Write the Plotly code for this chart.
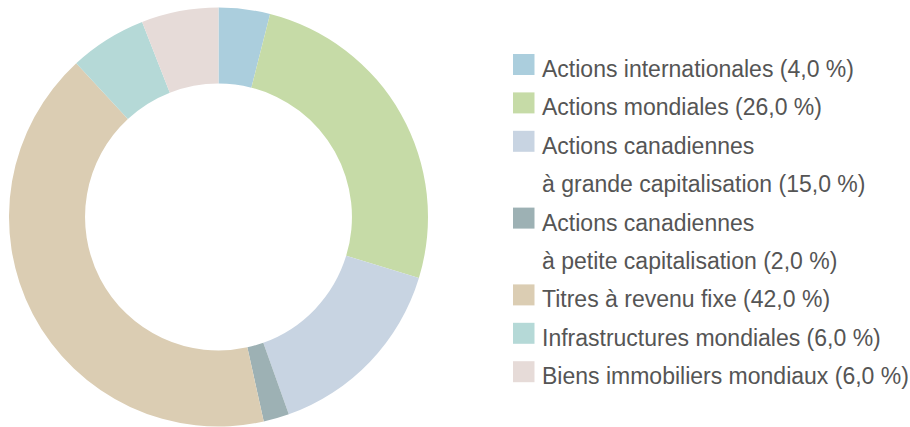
import plotly.graph_objects as go

# ---- data ----
categories = [
    "Actions internationales",
    "Actions mondiales",
    "Actions canadiennes<br>à grande capitalisation",
    "Actions canadiennes<br>à petite capitalisation",
    "Titres à revenu fixe",
    "Infrastructures mondiales",
    "Biens immobiliers mondiaux",
]
values = [4.0, 26.0, 15.0, 2.0, 42.0, 6.0, 6.0]
colors = ["#abcedd", "#c6dba7", "#c8d4e2", "#9db1b4", "#dbcdb3", "#b5d9d7", "#e6dbd8"]

W, H = 910, 427
TEXT_COLOR = "#555555"
FONT = "Arial, Liberation Sans, sans-serif"

def px_x(x):
    return x / W

def px_y(y):
    return 1 - y / H

fig = go.Figure()
fig.add_trace(go.Pie(
    labels=[c.replace("<br>", " ") for c in categories],
    values=values,
    marker=dict(colors=colors, line=dict(width=0)),
    hole=0.637,
    sort=False,
    direction="clockwise",
    rotation=0,
    textinfo="none",
    hoverinfo="label+percent",
    domain=dict(x=[px_x(9), px_x(428)], y=[px_y(426.5), px_y(7.5)]),
    showlegend=False,
))

# ---- custom legend ----
shapes = []
annotations = []
row = 0
row_h = 38.4
for cat, val, col in zip(categories, values, colors):
    label = f"{cat} ({val:.1f} %)".replace(".", ",")
    lines = label.split("<br>")
    top = 54 + row_h * row
    shapes.append(dict(
        type="rect", xref="paper", yref="paper",
        x0=px_x(513), x1=px_x(534.5), y0=px_y(top + 21), y1=px_y(top),
        fillcolor=col, line=dict(width=0),
    ))
    for line in lines:
        baseline = 77 + row_h * row
        annotations.append(dict(
            text=line, xref="paper", yref="paper",
            x=px_x(540), y=px_y(baseline - 8),
            xanchor="left", yanchor="middle", showarrow=False,
            font=dict(family=FONT, size=23, color=TEXT_COLOR),
        ))
        row += 1

fig.update_layout(
    width=W, height=H,
    margin=dict(l=0, r=0, t=0, b=0),
    paper_bgcolor="white", plot_bgcolor="white",
    shapes=shapes, annotations=annotations,
    showlegend=False,
)

fig.write_html(
    "out.html",
    config={"displayModeBar": False},
    post_script="document.body.style.margin='0';document.body.style.overflow='hidden';",
)
